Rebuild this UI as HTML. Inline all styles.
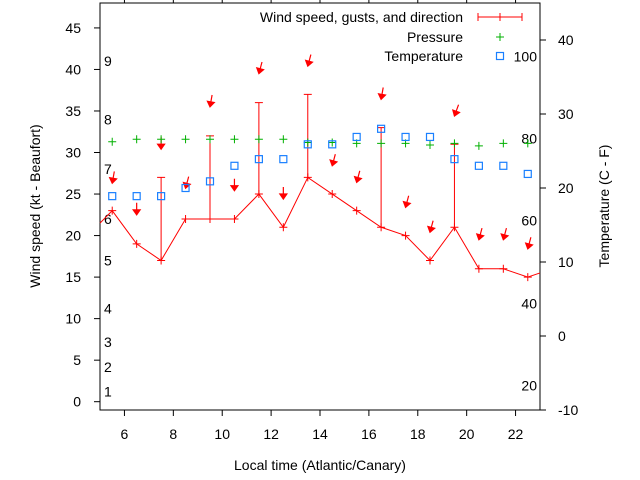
<!DOCTYPE html>
<html><head><meta charset="utf-8"><style>
body{margin:0;background:#fff}
svg{display:block;font-family:"Liberation Sans",sans-serif}
</style></head><body>
<svg id="chart" width="640" height="480" viewBox="0 0 640 480" xmlns="http://www.w3.org/2000/svg">
<rect width="640" height="480" fill="#fff"/>
<g id="g"></g>
</svg>
<script>
const hours=[5.5,6.5,7.5,8.5,9.5,10.5,11.5,12.5,13.5,14.5,15.5,16.5,17.5,18.5,19.5,20.5,21.5,22.5];
const windSpeed=[23,19,17,22,22,22,25,21,27,25,23,21,20,17,21,16,16,15];
const windEdge=[21.5,15.5];
const gusts=[null,null,27,null,32,null,36,null,37,null,null,33,null,null,31,null,null,null];
const windArrowHead=[26.3,22.5,30.4,25.7,35.5,25.4,39.5,24.4,40.4,28.4,26.4,36.4,23.4,20.4,34.4,19.5,19.5,18.4];
const windDir=[10,0,0,15,10,0,15,0,15,15,15,10,15,15,20,15,15,15];
const pressure=[31.3,31.6,31.6,31.6,31.6,31.6,31.6,31.6,31.2,31.2,31.1,31.1,31.1,30.9,31.1,30.8,31.1,31.1];
const tempC=[18.9,18.9,18.9,20,20.9,23,23.9,23.9,25.9,25.9,26.9,28,26.9,26.9,23.9,23,23,21.9];
const xTicks=[6,8,10,12,14,16,18,20,22];
const yTicks=[0,5,10,15,20,25,30,35,40,45];
const y2Ticks=[-10,0,10,20,30,40];
const beaufortLabels=["1","2","3","4","5","6","7","8","9"];
const beaufortY=[1.2,4.2,7.2,11.2,17,22,28,34,41];
const fLabels=["20","40","60","80","100"];
const fVals=[-6.7,4.4,15.6,26.7,37.8];

const L=100,R=540,T=3,B=410;
const X=v=>L+(v-5)/(23-5)*(R-L);
const Y=v=>B-(v+1)/49*(B-T);
const Y2=v=>B-(v+10)/55*(B-T);
const g=document.getElementById('g');
const NS='http://www.w3.org/2000/svg';
function mk(tag,at,txt){const e=document.createElementNS(NS,tag);for(const k in at)e.setAttribute(k,at[k]);if(txt!=null)e.textContent=txt;g.appendChild(e);return e;}
const RED='#ff0000';

let e=mk('rect',{x:L,y:T,width:R-L,height:B-T,fill:'none',stroke:'#000','stroke-width':1});

xTicks.forEach(t=>{
 const x=X(t);
 e=mk('line',{x1:x,y1:B,x2:x,y2:B+6,stroke:'#000'});
 e=mk('line',{x1:x,y1:T,x2:x,y2:T-6,stroke:'#000'});
 e=mk('text',{x:x,y:B+29,'text-anchor':'middle','font-size':14,fill:'#000'},t);
 
});
yTicks.forEach(t=>{
 const y=Y(t);
 e=mk('line',{x1:L,y1:y,x2:L-6,y2:y,stroke:'#000'});
 e=mk('text',{x:L-19,y:y+5,'text-anchor':'end','font-size':14,fill:'#000'},t);
 
});
y2Ticks.forEach(t=>{
 const y=Y2(t);
 e=mk('line',{x1:R,y1:y,x2:R+6,y2:y,stroke:'#000'});
 e=mk('text',{x:R+18,y:y+5,'text-anchor':'start','font-size':14,fill:'#000'},t);
 
});
beaufortLabels.forEach((s,i)=>{
 e=mk('text',{x:104,y:Y(beaufortY[i])+5,'font-size':14,fill:'#000'},s);
 
});
fLabels.forEach((s,i)=>{
 e=mk('text',{x:537,y:Y2(fVals[i])+5,'text-anchor':'end','font-size':14,fill:'#000'},s);
 
});
e=mk('text',{x:320,y:470,'text-anchor':'middle','font-size':14,fill:'#000'},'Local time (Atlantic/Canary)');

e=mk('text',{x:0,y:0,'text-anchor':'middle','font-size':14,fill:'#000',transform:'translate(40,206) rotate(-90)'},'Wind speed (kt - Beaufort)');

e=mk('text',{x:0,y:0,'text-anchor':'middle','font-size':14,fill:'#000',transform:'translate(609,206) rotate(-90)'},'Temperature (C - F)');


const pts=[[X(5),Y(windEdge[0])]];
hours.forEach((h,i)=>pts.push([X(h),Y(windSpeed[i])]));
pts.push([X(23),Y(windEdge[1])]);
e=mk('polyline',{points:pts.map(p=>p.join(',')).join(' '),fill:'none',stroke:RED,'stroke-width':1});

hours.forEach((h,i)=>{
 const x=X(h),y=Y(windSpeed[i]);
 if(gusts[i]!=null){
  const yg=Y(gusts[i]);
  e=mk('path',{d:`M${x},${y}V${yg}M${x-4},${yg}H${x+4}`,stroke:RED,fill:'none'});
  
 }
 e=mk('path',{d:`M${x-4},${y}H${x+4}M${x},${y-4}V${y+4}`,stroke:RED,fill:'none'});
 
 const a=windDir[i]*Math.PI/180, hy=Y(windArrowHead[i]), len=12;
 const tx=x+Math.sin(a)*len, ty=hy-Math.cos(a)*len;
 const ux=Math.sin(a),uy=-Math.cos(a),px=-uy,py=ux;
 const b1x=x+ux*5+px*3.5,b1y=hy+uy*5+py*3.5,b2x=x+ux*5-px*3.5,b2y=hy+uy*5-py*3.5;
 e=mk('path',{d:`M${tx},${ty}L${x},${hy}M${b1x},${b1y}L${x},${hy}L${b2x},${b2y}Z`,stroke:RED,fill:RED,'stroke-width':1.2});
 
 const yp=Y(pressure[i]);
 e=mk('path',{d:`M${x-4},${yp}H${x+4}M${x},${yp-4}V${yp+4}`,stroke:'#00b000',fill:'none'});
 
 const yt=Y2(tempC[i]);
 e=mk('rect',{x:x-3.5,y:yt-3.5,width:7,height:7,fill:'none',stroke:'#1a80ff','stroke-width':1.2});
 
});

const leg=[['Wind speed, gusts, and direction',17],['Pressure',37],['Temperature',56]];
leg.forEach((l,i)=>{
 e=mk('text',{x:463,y:l[1]+5,'text-anchor':'end','font-size':14,fill:'#000'},l[0]);
 
});
e=mk('path',{d:'M478,17H522M478,13V21M522,13V21M500,13V21',stroke:RED,fill:'none'});

e=mk('path',{d:'M496,37H504M500,33V41',stroke:'#00b000',fill:'none'});

e=mk('rect',{x:496.5,y:52.5,width:7,height:7,fill:'none',stroke:'#1a80ff','stroke-width':1.2});

</script>
</body></html>
